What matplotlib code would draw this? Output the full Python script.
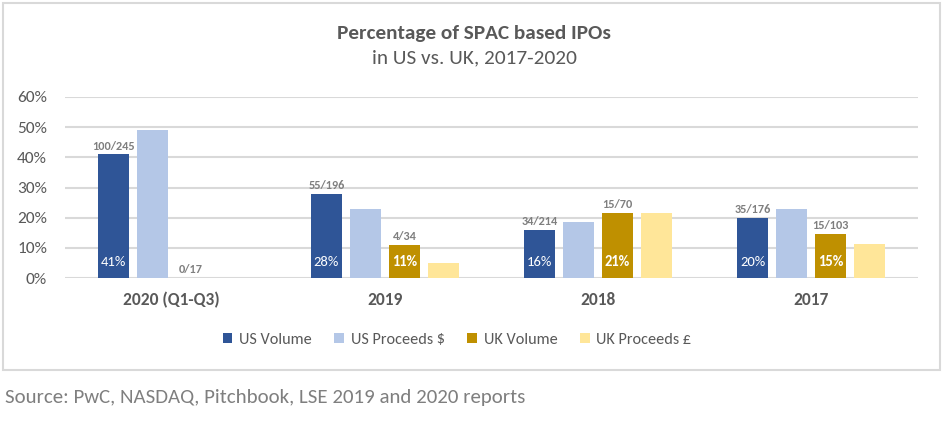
import matplotlib
matplotlib.use("Agg")
import matplotlib.pyplot as plt
from matplotlib.patches import Rectangle, Patch
import numpy as np

plt.rcParams['font.family'] = ['Carlito', 'Lato', 'DejaVu Sans']

categories = ["2020 (Q1-Q3)", "2019", "2018", "2017"]
series_names = ["US Volume", "US Proceeds $", "UK Volume", "UK Proceeds £"]
us_volume = [41, 28, 16, 20]
us_proceeds = [49, 23, 18.5, 23]
uk_volume = [0, 11, 21.5, 14.6]
uk_proceeds = [0, 5, 21.5, 11.3]
us_counts = ["100/245", "55/196", "34/214", "35/176"]
uk_counts = ["0/17", "4/34", "15/70", "15/103"]
us_pct_labels = ["41%", "28%", "16%", "20%"]
uk_pct_labels = ["", "11%", "21%", "15%"]
yticks = [0, 10, 20, 30, 40, 50, 60]

colors = ["#2F5597", "#B4C7E7", "#BF9000", "#FFE699"]

W, H = 944, 422
fig = plt.figure(figsize=(W / 100, H / 100), dpi=100)

# outer chart border
fig.patches.append(Rectangle((3 / W, 1 - 370 / H), 937 / W, 367 / H,
                             transform=fig.transFigure, fill=False,
                             edgecolor="#D9D9D9", linewidth=1.5))

ax = fig.add_axes([65 / W, 1 - 278 / H, 853 / W, (278 - 97) / H])
x = np.arange(len(categories))
step = 0.1827
width = 0.145
all_series = [us_volume, us_proceeds, uk_volume, uk_proceeds]
for j, (vals, c) in enumerate(zip(all_series, colors)):
    ax.bar(x + (j - 1.5) * step, vals, width=width, color=c, zorder=3,
           label=series_names[j])

ax.set_xlim(-0.5, len(categories) - 0.5)
ax.set_ylim(0, 60)
ax.set_yticks(yticks)
ax.set_yticklabels([f"{v}%" for v in yticks])
ax.set_xticks(x)
ax.set_xticklabels(categories, fontweight="bold")
ax.tick_params(axis="both", length=0, colors="#595959", labelsize=12.5)
ax.tick_params(axis="y", pad=13)
ax.tick_params(axis="x", pad=10)
ax.grid(axis="y", color="#D9D9D9", linewidth=1.5, zorder=0)
for s in ax.spines.values():
    s.set_visible(False)

# count labels above volume bars
for i in range(len(categories)):
    ax.annotate(us_counts[i], (x[i] - 1.5 * step, us_volume[i]),
                xytext=(0, 2), textcoords="offset points", ha="center",
                va="bottom", fontsize=8.8, fontweight="bold", color="#7F7F7F")
    ax.annotate(uk_counts[i], (x[i] + 0.5 * step, uk_volume[i]),
                xytext=(0, 2), textcoords="offset points", ha="center",
                va="bottom", fontsize=8.8, fontweight="bold", color="#7F7F7F")
    ax.text(x[i] - 1.5 * step, 5.3, us_pct_labels[i], ha="center",
            va="center", fontsize=10.5, color="white", zorder=4)
    if uk_pct_labels[i]:
        ax.text(x[i] + 0.5 * step, 5.3, uk_pct_labels[i], ha="center",
                va="center", fontsize=10.5, color="white", fontweight="bold",
                zorder=4)

fig.text(474 / W, 1 - 33 / H, "Percentage of SPAC based IPOs", ha="center",
         va="center", fontsize=15.3, fontweight="bold", color="#595959")
fig.text(474 / W, 1 - 58 / H, "in US vs. UK, 2017-2020", ha="center",
         va="center", fontsize=15.3, color="#595959")

handles = [Patch(facecolor=c, edgecolor="none") for c in colors]
fig.legend(handles, series_names, loc="center",
           bbox_to_anchor=(457 / W, 1 - 340 / H), ncol=4, frameon=False,
           fontsize=11.7, handlelength=0.6, handleheight=0.6,
           handletextpad=0.4, columnspacing=1.4, labelcolor="#595959")

fig.text(5 / W, 1 - 398 / H,
         "Source: PwC, NASDAQ, Pitchbook, LSE 2019 and 2020 reports",
         ha="left", va="center", fontsize=15, color="#7F7F7F")

fig.savefig("out.png", dpi=100)
